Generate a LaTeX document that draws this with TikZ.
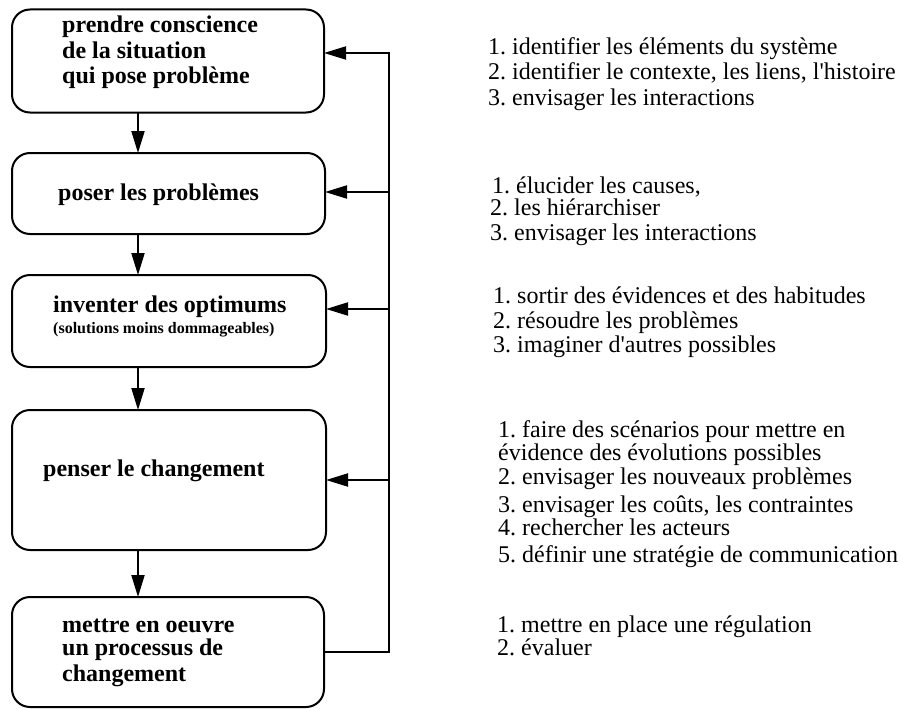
\documentclass[tikz,border=0pt]{standalone}
\usepackage{fontspec}
\setmainfont{Liberation Serif}
\usetikzlibrary{arrows.meta}
\frenchspacing
\begin{document}
\begin{tikzpicture}[x=1pt,y=-1pt,
  box/.style={draw, line width=2pt, rounded corners=18pt, inner sep=0pt, outer sep=0pt},
  arr/.style={line width=2pt, line join=miter, -{Triangle[length=22pt,width=13pt]}},
  btxt/.style={anchor=base west, inner sep=0pt, font=\fontsize{24}{25}\selectfont\bfseries},
  stxt/.style={anchor=base west, inner sep=0pt, font=\fontsize{16}{18}\selectfont\bfseries},
  rtxt/.style={anchor=base west, inner sep=0pt, font=\fontsize{24}{25}\selectfont}]
\useasboundingbox (0,0) rectangle (912,709);
% boxes
\node[box, minimum width=312pt, minimum height=103pt] (b1) at (168,61) {};
\node[box, minimum width=313pt, minimum height=81pt] (b2) at (168.5,193.5) {};
\node[box, minimum width=314pt, minimum height=92pt] (b3) at (169,321) {};
\node[box, minimum width=314pt, minimum height=140pt] (b4) at (169,480) {};
\node[box, minimum width=312pt, minimum height=110pt] (b5) at (168,652) {};
% box texts
\node[btxt] (t11) at (62,33) {prendre conscience};
\node[btxt] (t12) at (62,59) {de la situation};
\node[btxt] (t13) at (62,83) {qui pose problème};
\node[btxt] (t2) at (58,200) {poser les problèmes};
\node[btxt] (t31) at (53,312) {inventer des optimums};
\node[stxt] (t32) at (53,333) {(solutions moins dommageables)};
\node[btxt] (t4) at (43,476) {penser le changement};
\node[btxt] (t51) at (62,632) {mettre en oeuvre};
\node[btxt] (t52) at (62,655) {un processus de};
\node[btxt] (t53) at (62,681) {changement};
% vertical arrows
\coordinate (ax) at (138,0);
\draw[arr] (ax |- b1.south) -- (ax |- b2.north);
\draw[arr] (ax |- b2.south) -- (ax |- b3.north);
\draw[arr] (ax |- b3.south) -- (ax |- b4.north);
\draw[arr] (ax |- b4.south) -- (ax |- b5.north);
% feedback
\coordinate (f1) at (389,53);
\coordinate (f2) at (389,192);
\coordinate (f3) at (389,309);
\coordinate (f4) at (389,480);
\coordinate (f5) at (389,652);
\draw[arr] (b5.east) -- (f5) -- (f1) -- (f1 -| b1.east);
\draw[arr] (f2) -- (f2 -| b2.east);
\draw[arr] (f3) -- (f3 -| b3.east);
\draw[arr] (f4) -- (f4 -| b4.east);
% right texts
\node[rtxt] (r11) at (488,55) {1. identifier les éléments du système};
\node[rtxt] (r12) at (488,79) {2. identifier le contexte, les liens, l\textquotesingle histoire};
\node[rtxt] (r13) at (488,105) {3. envisager les interactions};
\node[rtxt] (r21) at (492,193) {1. élucider les causes,};
\node[rtxt] (r22) at (490,215) {2. les hiérarchiser};
\node[rtxt] (r23) at (490,240) {3. envisager les interactions};
\node[rtxt] (r31) at (493,303) {1. sortir des évidences et des habitudes};
\node[rtxt] (r32) at (493,328) {2. résoudre les problèmes};
\node[rtxt] (r33) at (493,352) {3. imaginer d\textquotesingle autres possibles};
\node[rtxt] (r41) at (498,437) {1. faire des scénarios pour mettre en};
\node[rtxt] (r42) at (498,460) {évidence des évolutions possibles};
\node[rtxt] (r43) at (498,484) {2. envisager les nouveaux problèmes};
\node[rtxt] (r44) at (498,512) {3. envisager les coûts, les contraintes};
\node[rtxt] (r45) at (498,535) {4. rechercher les acteurs};
\node[rtxt] (r46) at (498,562) {5. définir une stratégie de communication};
\node[rtxt] (r51) at (497,632) {1. mettre en place une régulation};
\node[rtxt] (r52) at (497,655) {2. évaluer};
\end{tikzpicture}
\end{document}
